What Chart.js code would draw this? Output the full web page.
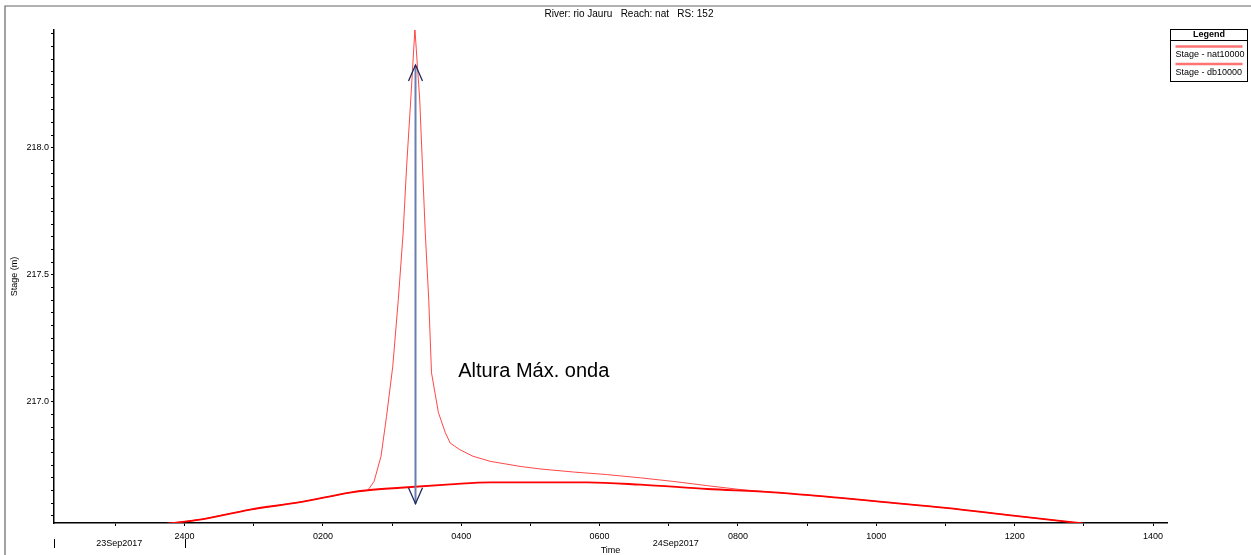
<!DOCTYPE html>
<html>
<head>
<meta charset="utf-8">
<title>River: rio Jauru  Reach: nat  RS: 152</title>
<script src="https://cdn.jsdelivr.net/npm/chart.js@4.4.1/dist/chart.umd.min.js"></script>
<style>
  body { margin: 0; background: #fff; }
  canvas { display: block; }
</style>
</head>
<body>
<canvas id="stageChart" width="1251" height="555"></canvas>
<script>
// time is in hours counted from 23Sep2017 00:00
const chartTitle = "River: rio Jauru   Reach: nat   RS: 152";

const natHours = [23.76, 24.22, 24.95, 25.67, 26.39, 26.65, 27.12, 27.84, 28.42, 29.14,
  29.82, 30.59, 31.56, 32.51, 33.48, 34.01, 35.00, 35.98, 36.99];
const natStage = [216.520, 216.535, 216.575, 216.604, 216.642, 216.651, 216.661, 216.674, 216.682, 216.682,
  216.682, 216.673, 216.656, 216.643, 216.621, 216.607, 216.582, 216.551, 216.520];

const dbHours = [23.76, 24.22, 24.95, 25.67, 26.39, 26.65, 26.74, 26.84, 26.92, 27.01,
  27.09, 27.16, 27.21, 27.27, 27.33, 27.40, 27.44, 27.48, 27.53, 27.57,
  27.67, 27.77, 27.84, 27.98, 28.17, 28.42, 28.85, 29.14, 29.62, 30.10,
  30.59, 31.06, 31.56, 32.03, 32.51, 33.48, 34.01, 35.00, 35.98, 36.99];
const dbStage = [216.520, 216.535, 216.575, 216.604, 216.642, 216.651, 216.686, 216.785, 216.942, 217.139,
  217.402, 217.665, 217.926, 218.189, 218.469, 218.189, 217.926, 217.665, 217.402, 217.114,
  216.957, 216.878, 216.837, 216.811, 216.785, 216.765, 216.745, 216.735, 216.723, 216.713,
  216.700, 216.686, 216.669, 216.654, 216.643, 216.621, 216.607, 216.582, 216.551, 216.520];

const seriesNames = ["Stage - nat10000", "Stage - db10000"];

const xRange = [22.113, 38.202];
const yRange = [216.522, 218.465];
const xTickHours = [24, 26, 28, 30, 32, 34, 36, 38];
const xTickLabels = ["2400", "0200", "0400", "0600", "0800", "1000", "1200", "1400"];
const yTickLabels = [217.0, 217.5, 218.0];

const dayLabels = ["23Sep2017", "24Sep2017"];
const dayBreakHours = [24];

// "Altura Máx. onda" arrow: hour, [bottom, top] stage
const arrowHour = 27.333;
const arrowStage = [216.598, 218.327];
const noteText = "Altura Máx. onda";
const noteHour = 27.955;
const noteStage = 217.118;

const fontFam = "'Liberation Sans', Arial, Helvetica, sans-serif";

function toPoints(xs, ys) {
  return xs.map((x, i) => ({ x: x, y: ys[i] }));
}

const hecPlugin = {
  id: "hecLook",
  beforeDraw(chart) {
    const c = chart.ctx;
    c.save();
    c.fillStyle = "#fff";
    c.fillRect(0, 0, chart.width, chart.height);
    c.strokeStyle = "#666";
    c.lineWidth = 1.2;
    c.beginPath();
    c.moveTo(5, chart.height);
    c.lineTo(5, 6);
    c.lineTo(chart.width, 6);
    c.stroke();
    c.fillStyle = "#000";
    c.font = "10px " + fontFam;
    c.textAlign = "center";
    c.textBaseline = "middle";
    c.fillText(chartTitle, 629, 14);
    c.restore();
  },
  afterDatasetsDraw(chart) {
    const c = chart.ctx;
    const xs = chart.scales.x, ys = chart.scales.y;
    const ax = Math.round(xs.getPixelForValue(arrowHour)) + 0.5;
    const yBot = ys.getPixelForValue(arrowStage[0]);
    const yTop = ys.getPixelForValue(arrowStage[1]);
    c.save();
    c.strokeStyle = "#6a7fb0";
    c.lineWidth = 2;
    c.beginPath();
    c.moveTo(ax, yTop);
    c.lineTo(ax, yBot);
    c.stroke();
    c.strokeStyle = "#1d2b5e";
    c.lineWidth = 1.3;
    c.beginPath();
    c.moveTo(ax - 7, yTop + 16);
    c.lineTo(ax, yTop);
    c.lineTo(ax + 7, yTop + 16);
    c.moveTo(ax - 7, yBot - 16);
    c.lineTo(ax, yBot);
    c.lineTo(ax + 7, yBot - 16);
    c.stroke();

    c.fillStyle = "#000";
    c.font = "20px " + fontFam;
    c.textAlign = "left";
    c.textBaseline = "middle";
    c.fillText(noteText, xs.getPixelForValue(noteHour), ys.getPixelForValue(noteStage));
    c.restore();
  },
  afterDraw(chart) {
    const c = chart.ctx;
    const xs = chart.scales.x;
    const area = chart.chartArea;
    c.save();
    // day row under the time axis
    const bounds = [area.left].concat(dayBreakHours.map(h => xs.getPixelForValue(h)), [area.right]);
    c.strokeStyle = "#000";
    c.lineWidth = 1;
    c.beginPath();
    for (let i = 0; i < bounds.length - 1; i++) {
      const bx = Math.round(bounds[i]) + 0.5;
      c.moveTo(bx, 539);
      c.lineTo(bx, 548);
    }
    c.stroke();
    c.fillStyle = "#000";
    c.font = "9px " + fontFam;
    c.textAlign = "center";
    c.textBaseline = "middle";
    dayLabels.forEach((lbl, i) => {
      c.fillText(lbl, (bounds[i] + bounds[i + 1]) / 2, 544);
    });

    // legend box
    const L = 1170.5, T = 29.5, W = 77, H = 52;
    c.fillStyle = "#fff";
    c.fillRect(L, T, W, H);
    c.strokeStyle = "#000";
    c.lineWidth = 1;
    c.strokeRect(L, T, W, H);
    c.beginPath();
    c.moveTo(L, 40.5);
    c.lineTo(L + W, 40.5);
    c.stroke();
    c.fillStyle = "#000";
    c.font = "bold 9px " + fontFam;
    c.textAlign = "center";
    c.fillText("Legend", L + W / 2, 35);
    c.font = "9px " + fontFam;
    c.textAlign = "left";
    chart.data.datasets.forEach((ds, i) => {
      const ly = 46.5 + i * 17.5;
      c.globalAlpha = 0.55;
      c.strokeStyle = "#ff0000";
      c.lineWidth = 2.5;
      c.beginPath();
      c.moveTo(L + 5, ly);
      c.lineTo(L + W - 5, ly);
      c.stroke();
      c.globalAlpha = 1;
      c.fillStyle = "#000";
      c.fillText(ds.label, L + 5, ly + 8.5);
    });
    c.restore();
  }
};

const ctx = document.getElementById("stageChart").getContext("2d");
const stageChart = new Chart(ctx, {
  type: "line",
  data: {
    datasets: [
      {
        label: seriesNames[0],
        data: toPoints(natHours, natStage),
        borderColor: "#ff0000",
        borderWidth: 1.8,
        pointRadius: 0,
        cubicInterpolationMode: "monotone",
      },
      {
        label: seriesNames[1],
        data: toPoints(dbHours, dbStage),
        borderColor: "rgba(255, 40, 40, 0.85)",
        borderWidth: 1,
        pointRadius: 0,
        tension: 0,
      },
    ],
  },
  options: {
    responsive: false,
    animation: false,
    layout: { padding: { left: 0, right: 84, top: 30, bottom: 0 } },
    plugins: {
      legend: { display: false },
      tooltip: { enabled: false },
      title: { display: false },
    },
    scales: {
      x: {
        type: "linear",
        min: xRange[0],
        max: xRange[1],
        afterBuildTicks: (s) => {
          const t = [];
          for (let h = 23; h <= 38; h++) t.push({ value: h });
          s.ticks = t;
        },
        afterFit: (s) => { s.height = 32; },
        ticks: {
          autoSkip: false,
          maxRotation: 0,
          padding: 5,
          color: "#000",
          font: { size: 9, family: fontFam },
          callback: (v) => {
            const i = xTickHours.indexOf(v);
            return i >= 0 ? xTickLabels[i] : "";
          },
        },
        grid: { drawOnChartArea: false, drawTicks: true, tickLength: 3, color: "#000" },
        border: { display: true, color: "#000", width: 1.5 },
        title: {
          display: true,
          text: "Time",
          color: "#000",
          font: { size: 9, family: fontFam, lineHeight: 1 },
          padding: 0,
        },
      },
      y: {
        min: yRange[0],
        max: yRange[1],
        afterBuildTicks: (s) => {
          const t = [];
          for (let k = 0; k <= 38; k++) t.push({ value: +(216.55 + k * 0.05).toFixed(2) });
          s.ticks = t;
        },
        afterFit: (s) => { s.width = 54; },
        ticks: {
          autoSkip: false,
          padding: 2,
          color: "#000",
          font: { size: 9, family: fontFam },
          callback: (v) => yTickLabels.some(l => Math.abs(l - v) < 1e-6) ? v.toFixed(1) : "",
        },
        grid: { drawOnChartArea: false, drawTicks: true, tickLength: 3, color: "#000" },
        border: { display: true, color: "#000", width: 1.5 },
        title: {
          display: true,
          text: "Stage (m)",
          color: "#000",
          font: { size: 9, family: fontFam },
          padding: { top: 9, bottom: 0 },
        },
      },
    },
  },
  plugins: [hecPlugin],
});
</script>
</body>
</html>
